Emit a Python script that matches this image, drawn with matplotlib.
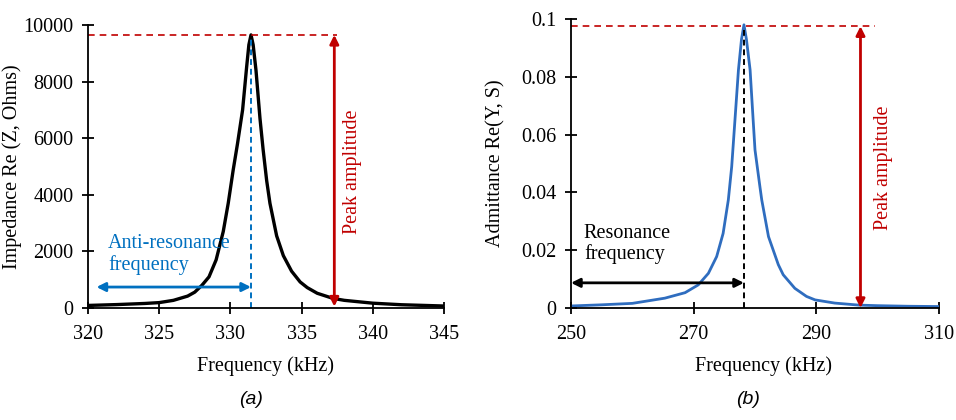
import matplotlib
matplotlib.use("Agg")
import matplotlib.pyplot as plt

plt.rcParams['font.family'] = ['Liberation Serif', 'DejaVu Serif']

# (a) real part of impedance around anti-resonance
freq_a = [320, 322, 324, 325, 326, 327, 327.5, 328, 328.5, 329, 329.5, 329.85,
          330.2, 330.5, 330.86, 331.14, 331.3, 331.45, 331.6, 331.8, 332.08,
          332.3, 332.55, 332.78, 333.25, 333.72, 334.3, 334.9, 335.4, 336.1,
          337.2, 338, 340, 342, 345]
z_re = [90, 120, 160, 190, 270, 420, 560, 800, 1100, 1700, 2700, 3700,
        4880, 5800, 7000, 8500, 9300, 9650, 9300, 8400, 6700,
        5600, 4500, 3700, 2550, 1850, 1300, 920, 720, 520,
        340, 270, 170, 115, 70]

# (b) real part of admittance around resonance
freq_b = [250, 255, 260, 265.3, 268.6, 270.75, 272.4, 273.75, 274.8, 275.65,
          276.2, 276.5, 277.3, 277.8, 278.2, 278.6, 279.2, 279.7, 280.0, 280.8,
          281.1, 282.2, 283.8, 284.6, 286.5, 288.4, 289.8, 293, 296.9, 300,
          305, 310]
y_re = [0.0007, 0.0011, 0.0016, 0.0034, 0.0053, 0.008, 0.012, 0.0178, 0.0258,
        0.0374, 0.0489, 0.058, 0.0824, 0.093, 0.098, 0.093, 0.0824, 0.065,
        0.0547, 0.042, 0.0374, 0.0247, 0.015, 0.0115, 0.0068, 0.0040, 0.0028,
        0.0017, 0.0010, 0.0008, 0.0006, 0.0005]

f_anti = 331.45
f_res = 278.2
amp_x_a = 337.3
amp_x_b = 297.2

RED = '#C00000'
BLUE = '#0070C0'
CURVE_B = '#2F6DBF'

fig = plt.figure(figsize=(9.56, 4.2), dpi=100)
ax1 = fig.add_axes([0.092, 0.2667, 0.3724, 0.6738])
ax2 = fig.add_axes([0.5973, 0.2667, 0.3849, 0.688])

for ax in (ax1, ax2):
    for s in ('top', 'right'):
        ax.spines[s].set_visible(False)
    for s in ('left', 'bottom'):
        ax.spines[s].set_linewidth(1.3)
    ax.tick_params(direction='inout', length=9, width=1.3, labelsize=14.5, pad=6)
    ax.tick_params(axis='x', pad=8)

# left panel
peak_a = max(z_re)
ax1.plot(freq_a, z_re, color='black', lw=2.4, solid_joinstyle='round')
ax1.plot([f_anti, f_anti], [0, peak_a - 150], color=BLUE, lw=1.4, ls=(0, (3, 2)))
ax1.plot([320, amp_x_a + 0.2], [peak_a, peak_a], color=RED, lw=1.2, ls=(0, (4, 3)))
ax1.annotate('', xy=(amp_x_a, peak_a), xytext=(amp_x_a, 50),
             arrowprops=dict(arrowstyle='<|-|>', color=RED, lw=2, mutation_scale=13,
                             shrinkA=0, shrinkB=0))
ax1.annotate('', xy=(320.6, 740), xytext=(f_anti, 740),
             arrowprops=dict(arrowstyle='<|-|>', color=BLUE, lw=2, mutation_scale=13,
                             shrinkA=0, shrinkB=0))
ax1.text(321.4, 1900, 'Anti-resonance\nfrequency', color=BLUE, fontsize=14.5,
         ha='left', va='center', linespacing=1.12)
ax1.text(338.6, 4800, 'Peak amplitude', color=RED, fontsize=14.5, rotation=90,
         ha='center', va='center')
ax1.set_xlim(320, 345)
ax1.set_ylim(0, 10000)
ax1.set_xticks([320, 325, 330, 335, 340, 345])
ax1.set_yticks([0, 2000, 4000, 6000, 8000, 10000])
ax1.set_xlabel('Frequency (kHz)', fontsize=14.5)
ax1.set_ylabel('Impedance Re (Z, Ohms)', fontsize=14.5)
ax1.xaxis.set_label_coords(0.4986, -0.17)
ax1.yaxis.set_label_coords(-0.185, 0.5)

# right panel
peak_b = max(y_re)
ax2.plot(freq_b, y_re, color=CURVE_B, lw=2.0, solid_joinstyle='round')
ax2.plot([f_res, f_res], [0, peak_b - 0.0015], color='black', lw=1.4, ls=(0, (3, 2)))
ax2.plot([250, 299.5], [peak_b - 0.0005, peak_b - 0.0005], color=RED, lw=1.2,
         ls=(0, (4, 3)))
ax2.annotate('', xy=(amp_x_b, peak_b - 0.0005), xytext=(amp_x_b, 0.0),
             arrowprops=dict(arrowstyle='<|-|>', color=RED, lw=2, mutation_scale=13,
                             shrinkA=0, shrinkB=0))
ax2.annotate('', xy=(250, 0.0087), xytext=(f_res, 0.0087),
             arrowprops=dict(arrowstyle='<|-|>', color='black', lw=2, mutation_scale=13,
                             shrinkA=0, shrinkB=0))
ax2.text(252.1, 0.0221, 'Resonance\nfrequency', color='black', fontsize=14.5,
         ha='left', va='center', linespacing=1.12)
ax2.text(300.9, 0.0484, 'Peak amplitude', color=RED, fontsize=14.5, rotation=90,
         ha='center', va='center')
ax2.set_xlim(250, 310)
ax2.set_ylim(0, 0.1)
ax2.set_xticks([250, 270, 290, 310])
ax2.set_yticks([0, 0.02, 0.04, 0.06, 0.08, 0.1])
ax2.set_yticklabels(['0', '0.02', '0.04', '0.06', '0.08', '0.1'])
ax2.set_xlabel('Frequency (kHz)', fontsize=14.5)
ax2.set_ylabel('Admittance Re(Y, S)', fontsize=14.5)
ax2.xaxis.set_label_coords(0.524, -0.166)
ax2.yaxis.set_label_coords(-0.179, 0.5)

fig.text(251 / 956, 1 - 400 / 420, '(a)', fontsize=14, style='italic',
         family=['Liberation Sans', 'DejaVu Sans'], ha='center', va='center')
fig.text(748 / 956, 1 - 400 / 420, '(b)', fontsize=14, style='italic',
         family=['Liberation Sans', 'DejaVu Sans'], ha='center', va='center')

fig.savefig('out.png', dpi=100)
